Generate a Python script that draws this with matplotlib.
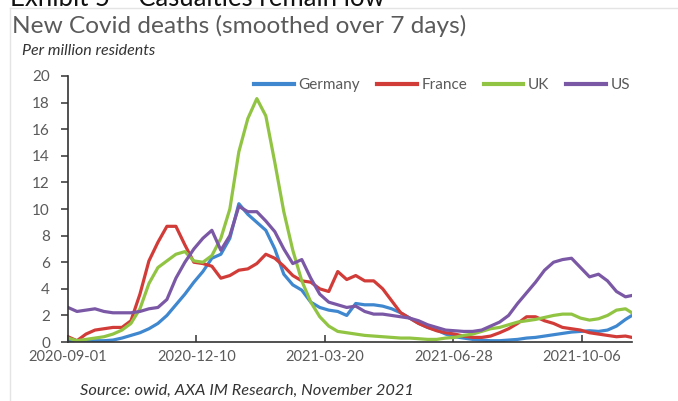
import pandas as pd
import matplotlib
matplotlib.use('Agg')
import matplotlib.pyplot as plt
import matplotlib.dates as mdates
from matplotlib.lines import Line2D

# weekly readings from 2020-09-01, last point 2021-11-14
dates = list(pd.date_range('2020-09-01', periods=63, freq='7D')) + [pd.Timestamp('2021-11-14')]

germany = [0.1, 0.05, 0.05, 0.1, 0.1, 0.15, 0.3, 0.5, 0.7, 1.0,
           1.4, 2.0, 2.8, 3.6, 4.5, 5.3, 6.3, 6.6, 7.8, 10.4,
           9.6, 9.0, 8.4, 7.0, 5.1, 4.3, 3.9, 3.0, 2.6, 2.4,
           2.3, 2.0, 2.9, 2.8, 2.8, 2.7, 2.5, 2.2, 1.8, 1.4,
           1.1, 0.9, 0.6, 0.4, 0.3, 0.2, 0.15, 0.1, 0.1, 0.15,
           0.2, 0.3, 0.35, 0.45, 0.55, 0.65, 0.75, 0.8, 0.85, 0.8,
           0.9, 1.2, 1.7, 2.0]
france = [0.4, 0.1, 0.6, 0.9, 1.0, 1.1, 1.1, 1.6, 3.6, 6.1,
          7.5, 8.7, 8.7, 7.3, 6.0, 5.9, 5.7, 4.8, 5.0, 5.4,
          5.5, 5.9, 6.6, 6.3, 5.7, 5.0, 4.6, 4.5, 4.0, 3.8,
          5.3, 4.7, 5.0, 4.6, 4.6, 4.0, 3.1, 2.2, 1.8, 1.4,
          1.1, 0.85, 0.7, 0.6, 0.45, 0.35, 0.35, 0.45, 0.7, 1.0,
          1.4, 1.9, 1.9, 1.6, 1.4, 1.1, 1.0, 0.9, 0.7, 0.6,
          0.5, 0.4, 0.45, 0.35]
uk = [0.3, 0.1, 0.2, 0.3, 0.4, 0.6, 0.9, 1.4, 2.5, 4.4,
      5.6, 6.1, 6.6, 6.8, 6.1, 6.0, 6.5, 7.8, 10.0, 14.3,
      16.8, 18.3, 17.0, 13.5, 9.8, 6.9, 4.6, 3.0, 1.9, 1.2,
      0.8, 0.7, 0.6, 0.5, 0.45, 0.4, 0.35, 0.3, 0.3, 0.25,
      0.2, 0.2, 0.3, 0.35, 0.5, 0.6, 0.8, 1.0, 1.1, 1.3,
      1.5, 1.6, 1.7, 1.85, 2.0, 2.1, 2.1, 1.8, 1.65, 1.75,
      2.0, 2.4, 2.5, 2.2]
us = [2.6, 2.3, 2.4, 2.5, 2.3, 2.2, 2.2, 2.2, 2.3, 2.5,
      2.6, 3.2, 4.8, 6.0, 7.0, 7.8, 8.4, 6.9, 8.0, 10.2,
      9.8, 9.8, 9.1, 8.3, 7.0, 5.9, 6.2, 4.8, 3.6, 3.0,
      2.8, 2.6, 2.7, 2.3, 2.1, 2.1, 2.0, 1.9, 1.8, 1.6,
      1.3, 1.1, 0.9, 0.85, 0.8, 0.8, 0.9, 1.2, 1.5, 2.0,
      2.9, 3.7, 4.5, 5.4, 6.0, 6.2, 6.3, 5.6, 4.9, 5.1,
      4.6, 3.8, 3.4, 3.5]

series = [('Germany', germany, '#3f87cf'),
          ('France', france, '#d23c38'),
          ('UK', uk, '#92c443'),
          ('US', us, '#7b58a6')]

tick_dates = ['2020-09-01', '2020-12-10', '2021-03-20', '2021-06-28', '2021-10-06']

plt.rcParams['font.family'] = ['Lato', 'DejaVu Sans']
grey = '#5a5a5a'

fig = plt.figure(figsize=(6.78, 4.01), dpi=100)
ax = fig.add_axes([0.1003, 0.147, 0.8317, 0.6635])

for name, vals, col in series:
    ax.plot(dates, vals, color=col, lw=2.3, label=name, solid_joinstyle='round')

ax.set_ylim(0, 20)
ax.set_yticks(range(0, 21, 2))
ax.set_xlim(pd.Timestamp('2020-09-01'), pd.Timestamp('2021-11-14'))
ax.set_xticks([pd.Timestamp(d) for d in tick_dates])
ax.xaxis.set_major_formatter(mdates.DateFormatter('%Y-%m-%d'))

for s in ['top', 'right']:
    ax.spines[s].set_visible(False)
for s in ['left', 'bottom']:
    ax.spines[s].set_color('#333333')
    ax.spines[s].set_linewidth(1.2)
ax.tick_params(axis='y', direction='out', length=5, width=1.1, color='#333333',
               labelsize=11, labelcolor=grey, pad=8)
ax.tick_params(axis='x', direction='in', length=5, width=1.1, color='#333333',
               labelsize=10.5, labelcolor=grey, pad=6)

handles = [Line2D([], [], color=c, lw=3) for _, _, c in series]
ax.legend(handles, [n for n, _, _ in series], ncol=4, frameon=False,
          loc='center left', bbox_to_anchor=(0.33, 0.965), borderaxespad=0,
          borderpad=0, handlelength=2.6, handletextpad=0.3, columnspacing=1.1,
          fontsize=11, labelcolor=grey)

fig.text(0.015, 0.986, 'Exhibit 5 \u2013 Casualties remain low', fontsize=18.5,
         color='#111111', va='baseline')
fig.text(0.018, 0.918, 'New Covid deaths (smoothed over 7 days)', fontsize=17.6,
         color=grey, va='baseline')
fig.text(0.032, 0.862, 'Per million residents', fontsize=11.5, style='italic',
         color='#333333', va='baseline')
fig.text(0.118, 0.015, 'Source: owid, AXA IM Research, November 2021', fontsize=11.8,
         style='italic', color='#333333', va='baseline')

# faint panel border
fig.add_artist(Line2D([0.015, 1.0], [0.98, 0.98], transform=fig.transFigure,
                      color='#e4e4e4', lw=1))
fig.add_artist(Line2D([0.015, 0.015], [0.0, 0.98], transform=fig.transFigure,
                      color='#e4e4e4', lw=1))

fig.savefig('out.png', dpi=100)
